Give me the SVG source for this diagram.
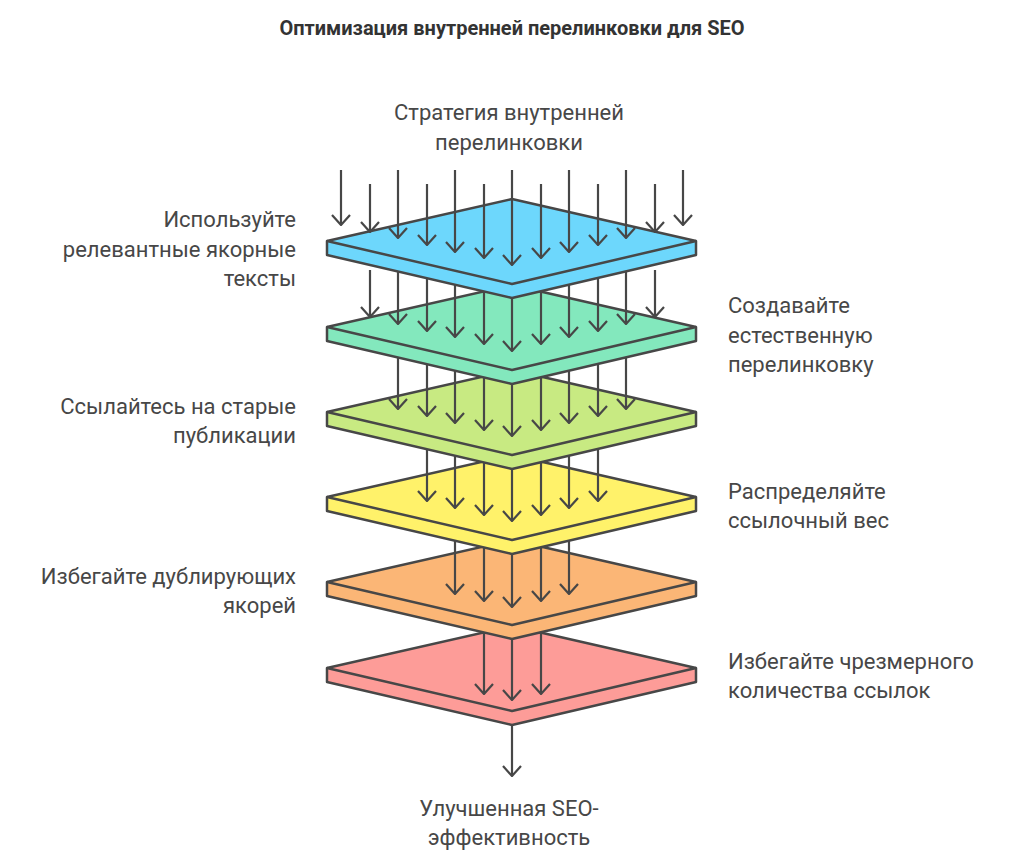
<svg xmlns="http://www.w3.org/2000/svg" width="1024" height="868" viewBox="0 0 1024 868">
<style>
text{font-family:Roboto,"Liberation Sans",Arial,sans-serif;fill:#474747;font-size:22px}
.t{font-weight:bold;font-size:20px;fill:#333}
.l{text-anchor:end}.c{text-anchor:middle}
.p{stroke:#474747;stroke-width:2.5;stroke-linejoin:round}
.a{stroke:#474747;stroke-width:2.2;fill:none}
</style>
<defs>
<marker id="h" viewBox="0 0 12 20" refX="11" refY="10" markerWidth="12" markerHeight="20" markerUnits="userSpaceOnUse" orient="auto"><path d="M1 1 L11 10 L1 19" class="a"/></marker>
</defs>
<rect width="1024" height="868" fill="#fff"/>
<text x="512" y="35" class="t c">Оптимизация внутренней перелинковки для SEO</text>
<g id="n6"><path class="p" fill="#fd9c98" d="M327 668 L512 626 L696 668 L696 682 L512 725 L327 682 Z"/><path class="p" fill="none" d="M327 668 L512 711 L696 668"/></g>
<g class="a" marker-end="url(#h)"><path d="M484 600 V694"/><path d="M512 600 V700"/><path d="M541 600 V694"/></g>
<g id="n5"><path class="p" fill="#fbb676" d="M327 582 L512 540 L696 582 L696 596 L512 639 L327 596 Z"/><path class="p" fill="none" d="M327 582 L512 625 L696 582"/></g>
<g class="a" marker-end="url(#h)"><path d="M455 520 V594"/><path d="M484 520 V601"/><path d="M512 520 V607"/><path d="M541 520 V601"/><path d="M569 520 V594"/></g>
<g id="n4"><path class="p" fill="#fff26a" d="M327 497 L512 455 L696 497 L696 511 L512 554 L327 511 Z"/><path class="p" fill="none" d="M327 497 L512 540 L696 497"/></g>
<g class="a" marker-end="url(#h)"><path d="M427 440 V501"/><path d="M455 440 V508"/><path d="M484 440 V515"/><path d="M512 440 V521"/><path d="M541 440 V515"/><path d="M569 440 V508"/><path d="M598 440 V501"/></g>
<g id="n3"><path class="p" fill="#c8ea82" d="M327 412 L512 370 L696 412 L696 426 L512 469 L327 426 Z"/><path class="p" fill="none" d="M327 412 L512 455 L696 412"/></g>
<g class="a" marker-end="url(#h)"><path d="M398 350 V409"/><path d="M427 350 V416"/><path d="M455 350 V423"/><path d="M484 350 V430"/><path d="M512 350 V436"/><path d="M541 350 V430"/><path d="M569 350 V423"/><path d="M598 350 V416"/><path d="M626 350 V409"/></g>
<g id="n2"><path class="p" fill="#83e8bd" d="M327 327 L512 285 L696 327 L696 341 L512 384 L327 341 Z"/><path class="p" fill="none" d="M327 327 L512 370 L696 327"/></g>
<g class="a" marker-end="url(#h)"><path d="M370 270 V317"/><path d="M398 270 V324"/><path d="M427 270 V331"/><path d="M455 270 V337"/><path d="M484 270 V344"/><path d="M512 270 V351"/><path d="M541 270 V344"/><path d="M569 270 V337"/><path d="M598 270 V331"/><path d="M626 270 V324"/><path d="M655 270 V317"/></g>
<g id="n1"><path class="p" fill="#6dd7fc" d="M327 241 L512 199 L696 241 L696 255 L512 298 L327 255 Z"/><path class="p" fill="none" d="M327 241 L512 284 L696 241"/></g>
<g id="connectors" class="a" marker-end="url(#h)">
<path d="M341 170 V225"/><path d="M370 184 V232"/><path d="M398 170 V238"/><path d="M427 184 V245"/><path d="M455 170 V252"/><path d="M484 184 V258"/><path d="M512 170 V265"/><path d="M541 184 V258"/><path d="M569 170 V252"/><path d="M598 184 V245"/><path d="M626 170 V238"/><path d="M655 184 V232"/><path d="M683 170 V225"/>
<path d="M512 725 V776"/>
</g>
<g id="labels">
<text x="509" y="120" class="c">Стратегия внутренней</text><text x="509" y="150" class="c">перелинковки</text>
<text x="296" y="227" class="l">Используйте</text><text x="296" y="257" class="l">релевантные якорные</text><text x="296" y="286" class="l">тексты</text>
<text x="728" y="313">Создавайте</text><text x="728" y="343">естественную</text><text x="728" y="372">перелинковку</text>
<text x="296" y="414" class="l">Ссылайтесь на старые</text><text x="296" y="443" class="l">публикации</text>
<text x="728" y="499">Распределяйте</text><text x="728" y="528">ссылочный вес</text>
<text x="296" y="584" class="l">Избегайте дублирующих</text><text x="296" y="613" class="l">якорей</text>
<text x="728" y="669">Избегайте чрезмерного</text><text x="728" y="698">количества ссылок</text>
<text x="509" y="816" class="c">Улучшенная SEO-</text><text x="509" y="845" class="c">эффективность</text>
</g>
</svg>
